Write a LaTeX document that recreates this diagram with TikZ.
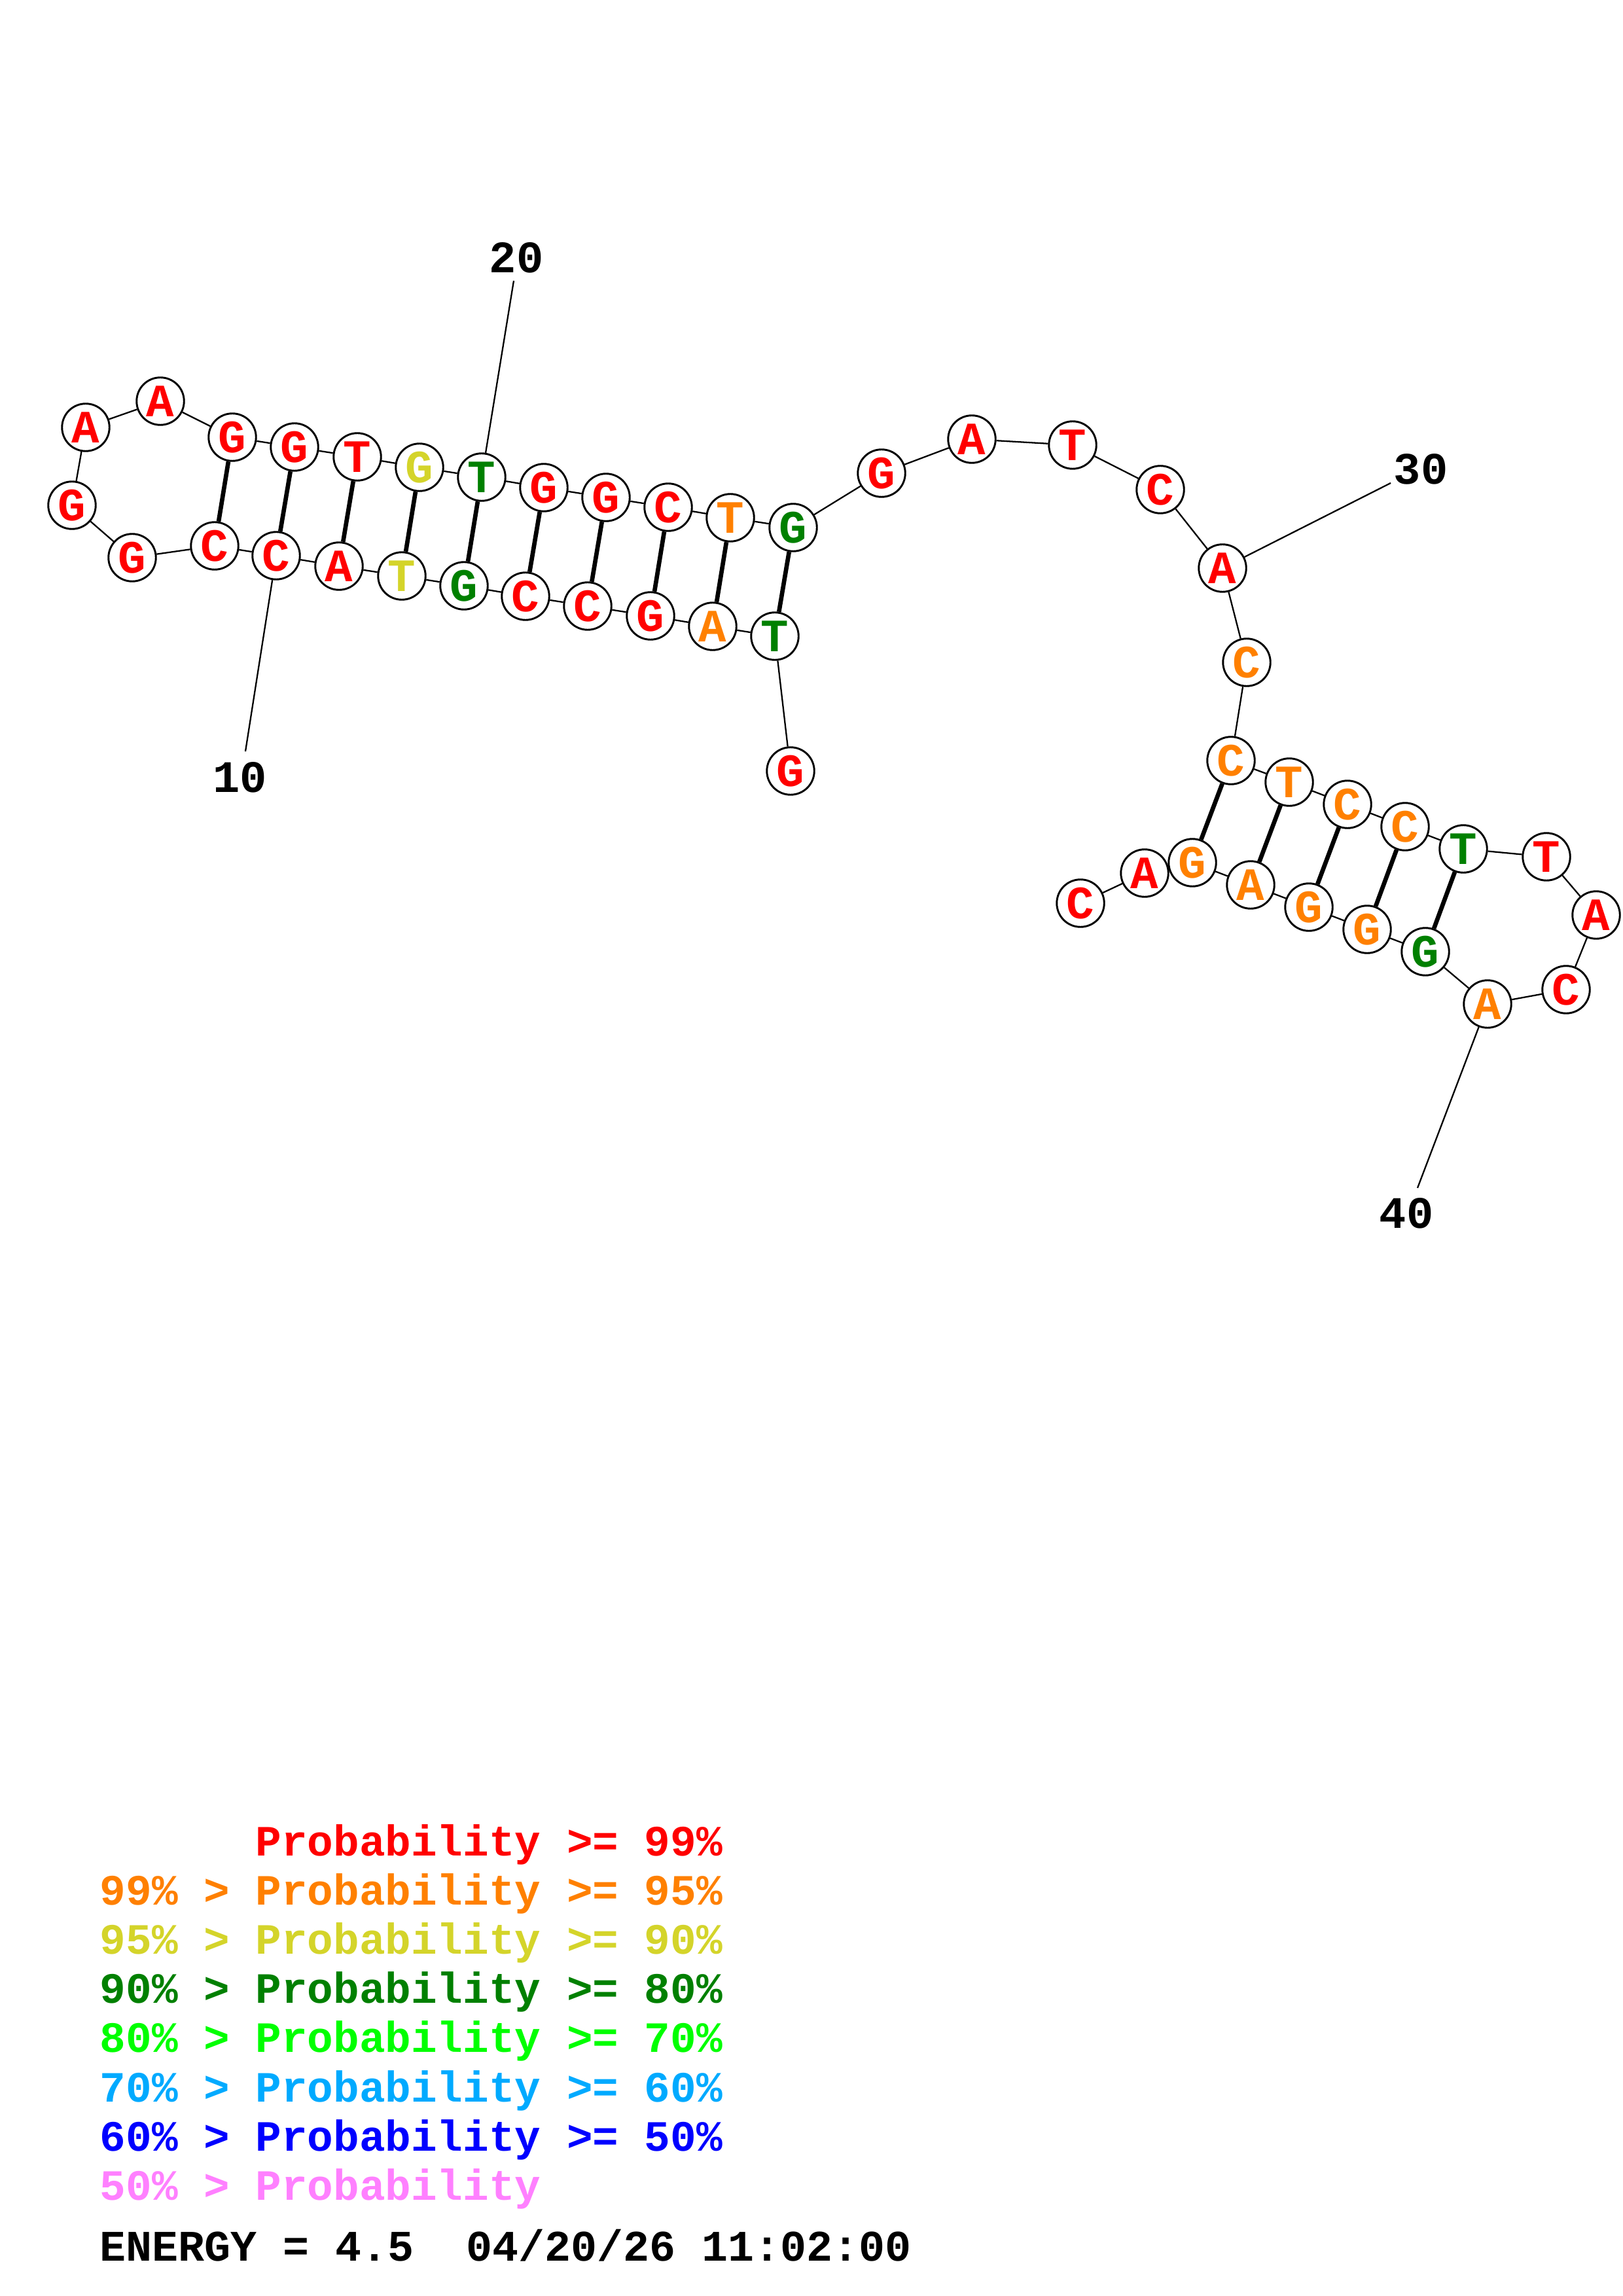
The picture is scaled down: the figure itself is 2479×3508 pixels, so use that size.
\documentclass[tikz,border=0pt]{standalone}
\usepackage{fontspec}
\setmonofont{Liberation Mono}
\definecolor{cred}{RGB}{255,0,0}
\definecolor{corange}{RGB}{255,128,0}
\definecolor{cyellow}{RGB}{212,212,42}
\definecolor{cdgreen}{RGB}{0,128,0}
\definecolor{cgreen}{RGB}{0,255,0}
\definecolor{clblue}{RGB}{0,170,255}
\definecolor{cblue}{RGB}{0,0,255}
\definecolor{cpink}{RGB}{255,128,255}
\tikzset{
  nt/.style={circle, draw=black, fill=white, line width=0.7pt, minimum size=17.4pt, inner sep=0pt,
    font=\ttfamily\bfseries\fontsize{17}{18}\selectfont},
  bb/.style={line width=0.55pt, black},
  pairline/.style={line width=1.6pt, black},
  numlab/.style={font=\ttfamily\bfseries\fontsize{16.5}{18}\selectfont, inner sep=0pt},
  leg/.style={font=\ttfamily\bfseries\fontsize{15.85}{18}\selectfont, anchor=base west, inner sep=0pt},
  energy/.style={font=\ttfamily\bfseries\fontsize{16}{18}\selectfont, anchor=base west, inner sep=0pt}
}
\begin{document}
\begin{tikzpicture}[x=0.24pt, y=-0.24pt]
\useasboundingbox[fill=white] (0,0) rectangle (2479,3508);
\foreach \i/\x/\y/\b/\c in {
1/1208/1178/G/cred, 2/1184/972/T/cdgreen, 3/1089/957/A/corange, 4/994/941/G/cred,
5/898/926/C/cred, 6/803/911/C/cred, 7/709/895/G/cdgreen, 8/614/880/T/cyellow,
9/518/865/A/cred, 10/422/849/C/cred, 11/328/834/C/cred, 12/202/852/G/cred,
13/110/772/G/cred, 14/131/653/A/cred, 15/245/613/A/cred, 16/355/668/G/cred,
17/450/683/G/cred, 18/546/698/T/cred, 19/641/714/G/cyellow, 20/736/729/T/cdgreen,
21/831/745/G/cred, 22/926/760/G/cred, 23/1021/775/C/cred, 24/1116/791/T/corange,
25/1212/806/G/cdgreen, 26/1347/723/G/cred, 27/1485/671/A/cred, 28/1639/680/T/cred,
29/1773/748/C/cred, 30/1868/868/A/cred, 31/1905/1012/C/corange, 32/1881/1162/C/corange,
33/1970/1195/T/corange, 34/2059/1229/C/corange, 35/2147/1263/C/corange, 36/2236/1297/T/cdgreen,
37/2363/1309/T/cred, 38/2439/1398/A/cred, 39/2393/1512/C/cred, 40/2273/1534/A/corange,
41/2178/1454/G/cdgreen, 42/2089/1420/G/corange, 43/2000/1386/G/corange, 44/1911/1352/A/corange,
45/1822/1318/G/corange, 46/1749/1334/A/cred, 47/1651/1380/C/cred}
  \node[nt, text=\c] (n\i) at (\x,\y) {\b};
\foreach \a [evaluate=\a as \b using int(\a+1)] in {1,...,46}
  \draw[bb] (n\a) -- (n\b);
\foreach \a/\b in {2/25,3/24,4/23,5/22,6/21,7/20,8/19,9/18,10/17,11/16,32/45,33/44,34/43,35/42,36/41}
  \draw[pairline] (n\a) -- (n\b);
% position labels
\coordinate (e10) at (375,1148);
\coordinate (e20) at (785,429);
\coordinate (e30) at (2125,738);
\coordinate (e40) at (2166,1815);
\draw[bb] (n10) -- (e10);
\draw[bb] (n20) -- (e20);
\draw[bb] (n30) -- (e30);
\draw[bb] (n40) -- (e40);
\node[numlab] (l10) at (367,1188) {10};
\node[numlab] (l20) at (789,394) {20};
\node[numlab] (l30) at (2171,717) {30};
\node[numlab] (l40) at (2149,1854) {40};
% legend
\node[leg, text=cred]    (g1) at (152,2835) {\hphantom{99\% > }Probability >= 99\%};
\node[leg, text=corange] (g2) at (152,2910) {99\% > Probability >= 95\%};
\node[leg, text=cyellow] (g3) at (152,2985) {95\% > Probability >= 90\%};
\node[leg, text=cdgreen] (g4) at (152,3060) {90\% > Probability >= 80\%};
\node[leg, text=cgreen]  (g5) at (152,3135) {80\% > Probability >= 70\%};
\node[leg, text=clblue]  (g6) at (152,3211) {70\% > Probability >= 60\%};
\node[leg, text=cblue]   (g7) at (152,3286) {60\% > Probability >= 50\%};
\node[leg, text=cpink]   (g8) at (152,3361) {50\% > Probability};
\node[energy, text=black] (en) at (152,3454) {ENERGY = 4.5\ \ 04/20/26 11:02:00};
\end{tikzpicture}
\end{document}
